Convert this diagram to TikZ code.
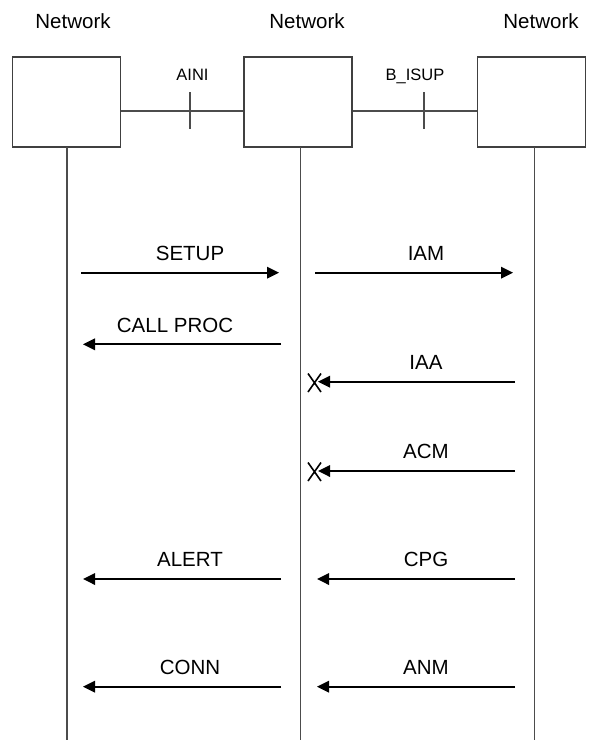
\documentclass[tikz,border=0pt]{standalone}
\usepackage{fontspec}
\setmainfont{Liberation Sans}
\usetikzlibrary{arrows.meta}
\begin{document}
\begin{tikzpicture}[x=1pt,y=-1pt,
  netbox/.style={draw=black!75,line width=1.2pt,minimum width=108pt,minimum height=90pt,inner sep=0pt},
  title/.style={font=\fontsize{20.5}{22}\selectfont,anchor=base,inner sep=0pt},
  lbl/.style={font=\fontsize{20.5}{22}\selectfont,anchor=base,inner sep=0pt},
  ifl/.style={font=\fontsize{16.5}{18}\selectfont,anchor=base,inner sep=0pt},
  life/.style={draw=black!70,line width=1.1pt},
  link/.style={draw=black!70,line width=1.1pt},
  msg/.style={draw=black,line width=1.8pt,-{Triangle[length=12pt,width=11.5pt]}},
  xmark/.style={draw=black,line width=1.6pt}]
\useasboundingbox (0,0) rectangle (589,740);
% titles
\node[title] (t1) at (73,28) {Network};
\node[title] (t2) at (307,28) {Network};
\node[title] (t3) at (541,28) {Network};
% boxes
\node[netbox] (b1) at (66.7,102) {};
\node[netbox] (b2) at (298,102) {};
\node[netbox] (b3) at (531.5,102) {};
% lifelines
\coordinate (e1) at (67,740);
\coordinate (e2) at (300.5,740);
\coordinate (e3) at (534.5,740);
\draw[life] (67,147) -- (e1);
\draw[life] (300.5,147) -- (e2);
\draw[life] (534.5,147) -- (e3);
% interface links
\draw[link] (b1.east |- 0,111) -- (b2.west |- 0,111);
\draw[link] (b2.east |- 0,111) -- (b3.west |- 0,111);
\coordinate (k1a) at (190,92); \coordinate (k1b) at (190,129);
\coordinate (k2a) at (424,92); \coordinate (k2b) at (424,129);
\draw[link] (k1a) -- (k1b);
\draw[link] (k2a) -- (k2b);
\node[ifl] (aini) at (192.5,80) {AINI};
\node[ifl] (bisup) at (415,80) {B\_ISUP};
% message endpoints
\coordinate (l1) at (81,272.7);  \coordinate (r1) at (279,272.7);
\coordinate (l2) at (315,272.7); \coordinate (r2) at (513,272.7);
\coordinate (l3) at (83,344.3);  \coordinate (r3) at (281,344.3);
\coordinate (l4) at (318,381.7); \coordinate (r4) at (515,381.7);
\coordinate (l5) at (318,471);   \coordinate (r5) at (515,471);
\coordinate (l6) at (83,579);    \coordinate (r6) at (281,579);
\coordinate (l7) at (317,579);   \coordinate (r7) at (515,579);
\coordinate (l8) at (83,686.7);  \coordinate (r8) at (281,686.7);
\coordinate (l9) at (317,686.7); \coordinate (r9) at (515,686.7);
\draw[msg] (l1) -- (r1);
\draw[msg] (l2) -- (r2);
\draw[msg] (r3) -- (l3);
\draw[msg] (r4) -- (l4);
\draw[msg] (r5) -- (l5);
\draw[msg] (r6) -- (l6);
\draw[msg] (r7) -- (l7);
\draw[msg] (r8) -- (l8);
\draw[msg] (r9) -- (l9);
% X marks
\draw[xmark] (308,373.5) -- (321,392) (321,373.5) -- (308,392);
\draw[xmark] (308,462.5) -- (321,481) (321,462.5) -- (308,481);
% labels
\node[lbl] (m1) at (190,260) {SETUP};
\node[lbl] (m2) at (426,260) {IAM};
\node[lbl] (m3) at (175,332) {CALL PROC};
\node[lbl] (m4) at (426,369) {IAA};
\node[lbl] (m5) at (426,458.5) {ACM};
\node[lbl] (m6) at (190,566.5) {ALERT};
\node[lbl] (m7) at (426,566.5) {CPG};
\node[lbl] (m8) at (190,674.5) {CONN};
\node[lbl] (m9) at (426,674.5) {ANM};
\end{tikzpicture}
\end{document}
